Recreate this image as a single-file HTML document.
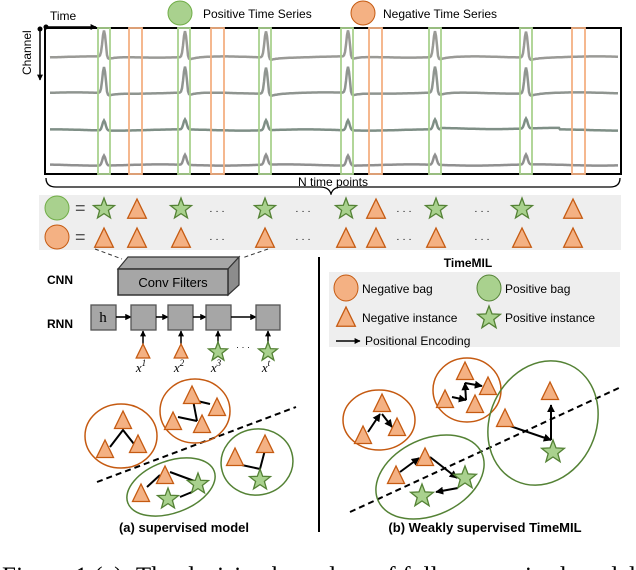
<!DOCTYPE html>
<html><head><meta charset="utf-8"><style>
html,body{margin:0;padding:0;background:#fff;width:636px;height:570px;overflow:hidden}
svg{display:block}
text{font-family:"Liberation Sans",sans-serif}
</style></head><body>
<svg id="s" width="636" height="570" viewBox="0 0 636 570" xmlns="http://www.w3.org/2000/svg">
<defs>
<marker id="ah" viewBox="0 0 10 10" refX="9" refY="5" markerWidth="4" markerHeight="4" orient="auto"><path d="M0,0L10,5L0,10z" fill="#000"/></marker>
</defs>
<g id="traces"></g>
<rect x="45" y="28" width="576" height="146" fill="none" stroke="#000" stroke-width="2"/>
<g id="rects"></g>
<!-- axes -->
<circle cx="46" cy="27" r="2.5" fill="#000"/>
<line x1="46" y1="27" x2="96" y2="27" stroke="#000" stroke-width="1.5" marker-end="url(#ah)"/>
<line x1="40" y1="29" x2="40" y2="80" stroke="#000" stroke-width="1.5" marker-end="url(#ah)"/>
<circle cx="40" cy="29" r="2.5" fill="#000"/>
<text x="50" y="20" font-size="12">Time</text>
<text transform="translate(31,75) rotate(-90)" font-size="12">Channel</text>
<ellipse cx="180" cy="13" rx="12" ry="12" fill="#a9d18e" stroke="#70ad47"/>
<text x="203" y="18" font-size="12">Positive Time Series</text>
<ellipse cx="363" cy="13" rx="12" ry="12" fill="#f4b183" stroke="#c55a11"/>
<text x="383" y="18" font-size="12">Negative Time Series</text>
<!-- brace -->
<path d="M46,178 Q46,187 56,187 L320,187 Q329,187 331,194 Q333,187 342,187 L610,187 Q620,187 620,178" fill="none" stroke="#000" stroke-width="1.3"/>
<text x="333" y="186" font-size="12" text-anchor="middle">N time points</text>
<!-- band -->
<rect x="39" y="195" width="582" height="55" fill="#eeeeee"/>
<g id="rows"></g>
<!-- conv -->
<line x1="95" y1="249" x2="122" y2="259" stroke="#333" stroke-dasharray="4,3"/>
<line x1="268" y1="249" x2="242" y2="258" stroke="#333" stroke-dasharray="4,3"/>
<polygon points="118,269 128,257 239,257 228,269" fill="#a6a6a6" stroke="#333" stroke-width="1.2"/>
<polygon points="228,269 239,257 239,285 228,295" fill="#8c8c8c" stroke="#333" stroke-width="1.2"/>
<rect x="118" y="269" width="110" height="26" fill="#a6a6a6" stroke="#333" stroke-width="1.5"/>
<text x="173" y="287" font-size="13" text-anchor="middle">Conv Filters</text>
<text x="47" y="284" font-size="12" font-weight="bold">CNN</text>
<text x="47" y="328" font-size="12" font-weight="bold">RNN</text>
<g id="rnn"></g>
<!-- divider -->
<line x1="319" y1="257" x2="319" y2="532" stroke="#000" stroke-width="2"/>
<text x="468" y="267" font-size="12" font-weight="bold" text-anchor="middle">TimeMIL</text>
<rect x="329" y="272" width="291" height="75" fill="#eeeeee"/>
<ellipse cx="346" cy="288" rx="12" ry="13" fill="#f4b183" stroke="#c55a11"/>
<text x="362" y="293" font-size="12">Negative bag</text>
<ellipse cx="489" cy="288" rx="12" ry="13" fill="#a9d18e" stroke="#548235"/>
<text x="505" y="293" font-size="12">Positive bag</text>
<g id="leg"></g>
<text x="362" y="322" font-size="12">Negative instance</text>
<text x="505" y="322" font-size="12">Positive instance</text>
<line x1="336" y1="341" x2="360" y2="341" stroke="#000" stroke-width="1.5" marker-end="url(#ah)"/>
<text x="365" y="345" font-size="12">Positional Encoding</text>
<g id="clusters"></g>
<text x="184" y="532" font-size="13" font-weight="bold" text-anchor="middle">(a) supervised model</text>
<text x="485" y="532" font-size="13" font-weight="bold" text-anchor="middle">(b) Weakly supervised TimeMIL</text>
<text x="2" y="584" font-size="25" font-family="Liberation Serif" textLength="634" lengthAdjust="spacing" style="font-family:'Liberation Serif',serif">Figure 1 (a): The decisive boundary of fully supervised model</text>
</svg>
<script>
const NS="http://www.w3.org/2000/svg";
function el(g,t,a){const e=document.createElementNS(NS,t);for(const k in a)e.setAttribute(k,a[k]);document.getElementById(g).appendChild(e);return e;}
const OF="#f4b183",OS="#c55a11",GF="#a9d18e",GS="#548235";
function tri(g,x,y,s){s=s||10;el(g,"polygon",{points:`${x},${y-s} ${x-s*0.85},${y+s*0.75} ${x+s*0.85},${y+s*0.75}`,fill:OF,stroke:OS,"stroke-width":1.3});}
function star(g,x,y,r){r=r||11;let p=[];for(let i=0;i<10;i++){const a=-Math.PI/2+i*Math.PI/5,rr=i%2?r*0.42:r;p.push((x+rr*Math.cos(a)).toFixed(1)+","+(y+rr*Math.sin(a)).toFixed(1));}el(g,"polygon",{points:p.join(" "),fill:GF,stroke:GS,"stroke-width":1.3});}
// traces
const spikes=[104,185,266,348,435,526];
const ys=[57,93,130,165],amps=[26,26,10,10],cols=["#9a9a96","#8f9590","#7f8f86","#909090"];
ys.forEach((y,ci)=>{let d="";for(let x=50;x<=618;x+=1){let v=0;for(const s of spikes){const dx=x-s;v-=amps[ci]*Math.exp(-dx*dx/5);if(dx>2&&dx<40&&ci<2)v+=3*Math.exp(-(dx-3)/8);}
let base=y+Math.sin(x*0.05+ci)*0.6+(ci==2&&x>440&&x<560?-1.5:0);d+=(x==50?"M":"L")+x+","+(base+v).toFixed(1);}
el("traces","path",{d:d,fill:"none",stroke:cols[ci],"stroke-width":2.5});});
[98,178,259,341,429,520].forEach(x=>el("rects","rect",{x:x,y:28,width:12,height:146,fill:"none",stroke:GF,"stroke-width":1.8}));
[129,211,369,572].forEach(x=>el("rects","rect",{x:x,y:28,width:13,height:146,fill:"none",stroke:OF,"stroke-width":1.8}));
// rows
el("rows","ellipse",{cx:57,cy:208,rx:12,ry:12,fill:GF,stroke:"#70ad47"});
el("rows","ellipse",{cx:57,cy:237,rx:12,ry:12,fill:OF,stroke:OS});
[208,237].forEach(y=>{const t=el("rows","text",{x:75,y:y+6,"font-size":18,fill:"#555"});t.textContent="=";});
const xs=[104,137,181,265,346,376,436,522,573],r1="STSSSTSST";
xs.forEach((x,i)=>{if(r1[i]=="S")star("rows",x,209,11);else tri("rows",x,210,11);tri("rows",x,239,11);});
[217,303,404,482].forEach(x=>{const t=el("rows","text",{x:x,y:214,"font-size":10,"text-anchor":"middle"});t.textContent="· · ·";const u=el("rows","text",{x:x,y:242,"font-size":10,"text-anchor":"middle"});u.textContent="· · ·";});
// rnn
const bx=[[91,116],[131,156],[168,193],[206,231],[256,280]];
bx.forEach((b,i)=>{el("rnn","rect",{x:b[0],y:305,width:b[1]-b[0],height:25,fill:"#a6a6a6",stroke:"#555","stroke-width":1.3});if(i<4)el("rnn","line",{x1:b[1],y1:317,x2:bx[i+1][0],y2:317,stroke:"#000","stroke-width":1.6,"marker-end":"url(#ah)"});});
let h=el("rnn","text",{x:103,y:322,"font-size":15,"text-anchor":"middle","font-family":"Liberation Serif"});h.textContent="h";h.style.fontFamily="'Liberation Serif',serif";
const ix=[143,181,218,268];
ix.forEach((x,i)=>{el("rnn","line",{x1:x,y1:344,x2:x,y2:331,stroke:"#000","stroke-width":1.5,"marker-end":"url(#ah)"});if(i<2)tri("rnn",x,352,8);else star("rnn",x,352,10);
const t=el("rnn","text",{x:x-2,y:372,"font-size":13,"font-style":"italic","text-anchor":"middle"});t.style.fontFamily="'Liberation Serif',serif";t.innerHTML='x<tspan dy="-6" font-size="9">'+["1","2","3","t"][i]+'</tspan>';});
const dt=el("rnn","text",{x:243,y:350,"font-size":9,"text-anchor":"middle"});dt.textContent="· · ·";
// legend icons
tri("leg",346,318,11);star("leg",489,318,12);
// clusters
const C="clusters";
function ell(cx,cy,rx,ry,rot,s){el(C,"ellipse",{cx:cx,cy:cy,rx:rx,ry:ry,fill:"none",stroke:s,"stroke-width":1.5,transform:`rotate(${rot} ${cx} ${cy})`});}
function ln(pts,arrow){el(C,"polyline",{points:pts,fill:"none",stroke:"#000","stroke-width":2});}
function ar(x1,y1,x2,y2){el(C,"line",{x1:x1,y1:y1,x2:x2,y2:y2,stroke:"#000","stroke-width":2,"marker-end":"url(#ah)"});}
el(C,"line",{x1:97,y1:482,x2:296,y2:407,stroke:"#000","stroke-width":2,"stroke-dasharray":"6,4"});
el(C,"line",{x1:350,y1:512,x2:621,y2:387,stroke:"#000","stroke-width":2,"stroke-dasharray":"6,4"});
// (a)
ell(121,436,36,32,0,OS);ell(195,411,35,32,0,OS);ell(171,487,46,26,-20,GS);ell(257,462,36,33,-10,GS);
ln("110,447 123,430 134,444");ln("193,400 210,404");ln("193,400 197,421");ln("178,417 197,421");
ln("147,487 160,475");ln("170,472 197,482");ln("180,497 192,492");ln("237,464 260,469 265,450");
tri(C,123,421);tri(C,105,450);tri(C,138,445);
tri(C,192,396);tri(C,217,408);tri(C,173,422);tri(C,202,425);
tri(C,165,476);tri(C,141,494);star(C,198,484);star(C,168,499);
tri(C,235,458);tri(C,265,445);star(C,260,480);
// (b)
ell(379,420,36,30,0,OS);ell(467,390,34,32,0,OS);ell(543,423,53,64,25,GS);ell(430,477,57,38,-25,GS);
ar(368,432,380,414);ar(382,414,392,427);
ar(452,397,466,400);ar(466,400,465,383);ar(465,383,482,386);
ar(507,425,551,440);ar(551,440,551,405);
ar(400,472,419,458);ar(430,457,457,478);ar(458,488,436,492);
tri(C,382,404);tri(C,363,436);tri(C,397,428);
tri(C,465,372);tri(C,488,387);tri(C,445,400);tri(C,475,405);
tri(C,550,392);tri(C,505,419);star(C,553,452,12);
tri(C,396,476);tri(C,425,458);star(C,465,478,12);star(C,422,496,12);
</script>
</body></html>
